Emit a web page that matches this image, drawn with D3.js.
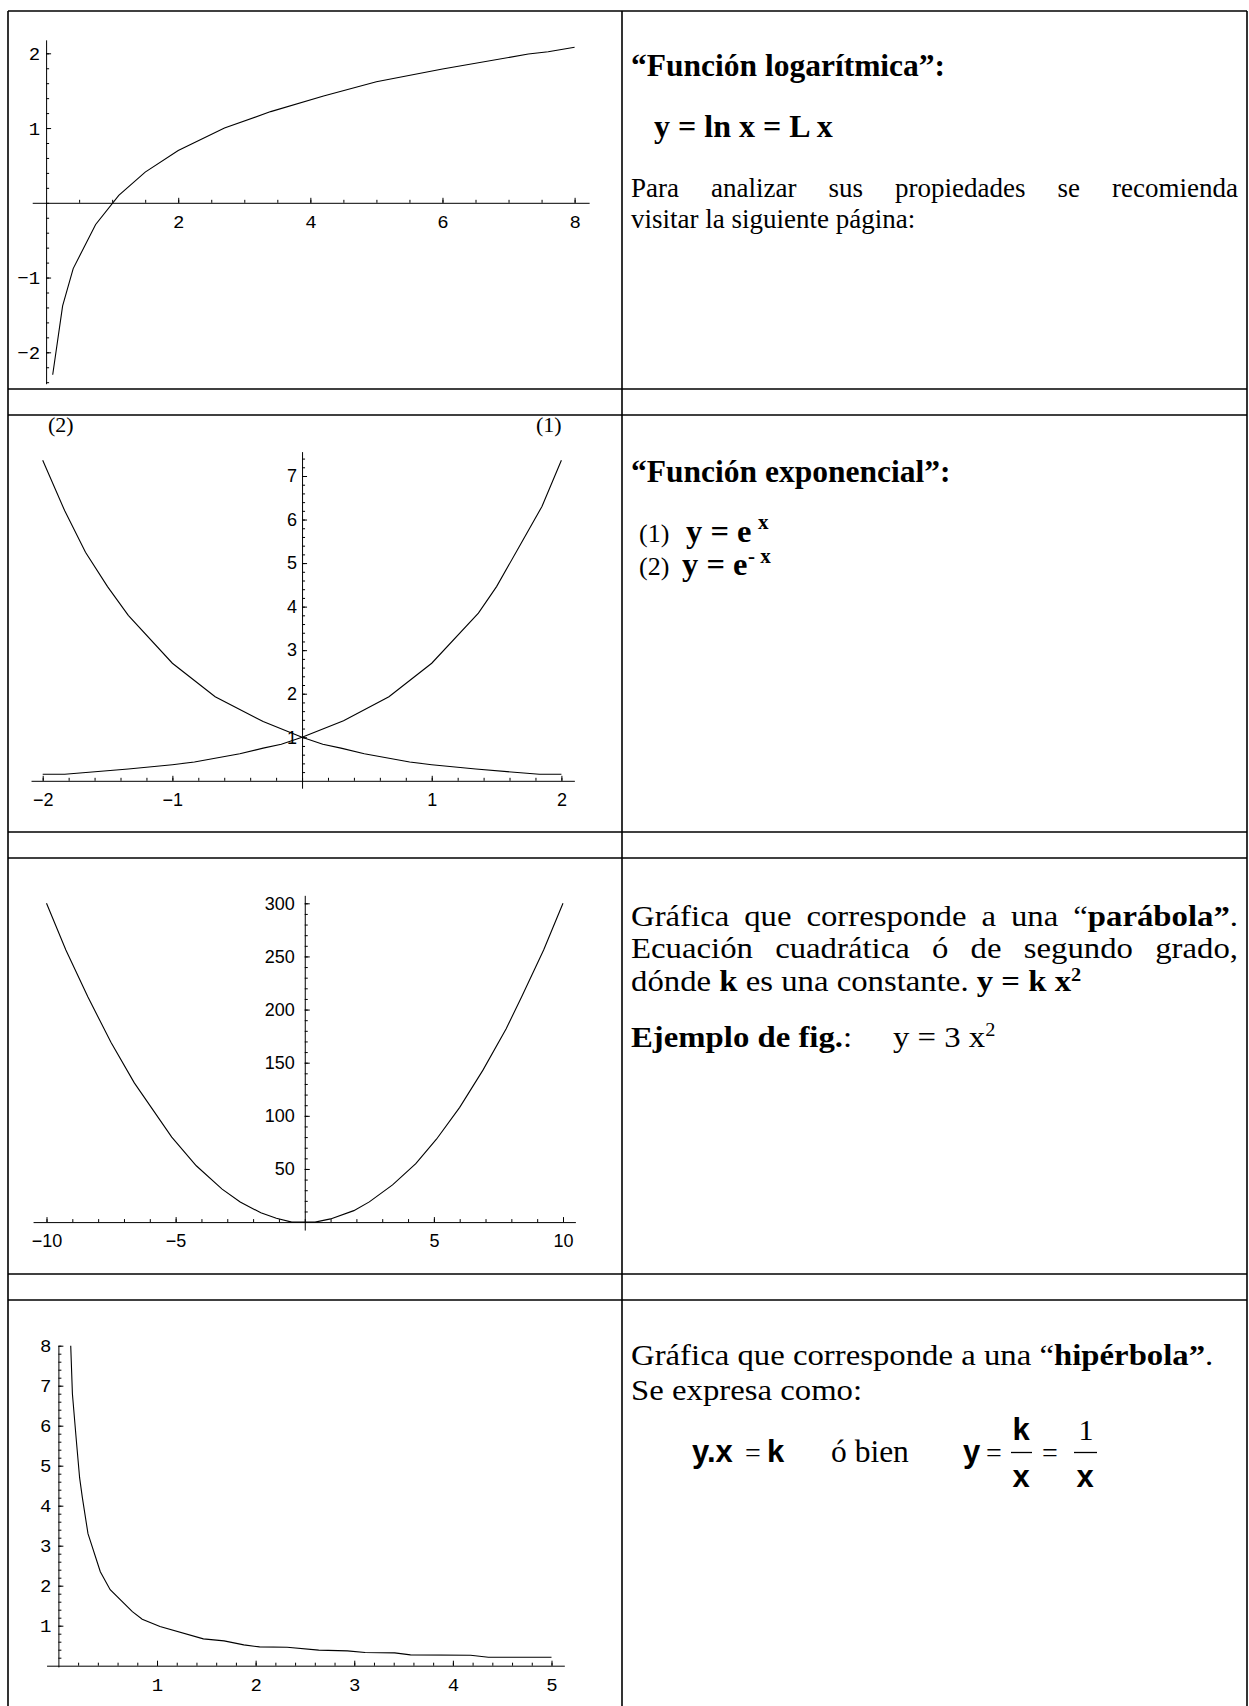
<!DOCTYPE html>
<html>
<head>
<meta charset="utf-8">
<style>
body { margin: 0; background: #fff; }
svg { display: block; }
.frame line { stroke: #000; stroke-width: 1.6; }
.axis .domain, .axis line { stroke: #000; stroke-width: 1; }
.curve { fill: none; stroke: #000; stroke-width: 1.1; }
text { white-space: pre; fill: #000; }
</style>
</head>
<body>
<svg id="page" width="1249" height="1706"></svg>
<script src="https://cdn.jsdelivr.net/npm/d3@7"></script>
<script>

// ---- values ----
// y = ln x
var logX = [0.1, 0.25, 0.41, 0.75, 1.1, 1.5, 2.0, 2.7, 3.4, 4.2, 5.0, 6.0, 7.3, 7.6, 8.0]
var logY = [-2.3, -1.38, -0.88, -0.29, 0.1, 0.41, 0.7, 1.0, 1.22, 1.43, 1.62, 1.79, 1.99, 2.02, 2.08]
var logXTicks = [2, 4, 6, 8]
var logYTicks = [-2, -1, 1, 2]

// (1) y = e^x  and  (2) y = e^-x
var expX1 = [-2.0, -1.83, -1.34, -1.0, -0.83, -0.48, -0.3, -0.16, 0.0, 0.32, 0.67, 1.0, 1.36, 1.5, 1.67, 1.85, 2.0]
var expY1 = [0.15, 0.15, 0.27, 0.37, 0.43, 0.62, 0.75, 0.84, 1.0, 1.38, 1.93, 2.7, 3.85, 4.46, 5.35, 6.3, 7.36]
var expX2 = [-2.0, -1.83, -1.67, -1.5, -1.34, -1.0, -0.67, -0.3, 0.0, 0.16, 0.3, 0.48, 0.83, 1.0, 1.34, 1.83, 2.0]
var expY2 = [7.36, 6.2, 5.25, 4.46, 3.8, 2.7, 1.93, 1.36, 1.0, 0.84, 0.75, 0.62, 0.43, 0.37, 0.27, 0.15, 0.15]
var expXTicks = [-2, -1, 1, 2]
var expYTicks = [1, 2, 3, 4, 5, 6, 7]

// y = 3 x^2
var parX = [-10, -9.25, -8.4, -7.5, -6.6, -5.15, -4.2, -3.2, -2.5, -1.7, -1.1, -0.5, 0.4, 1.0, 1.9, 2.5, 3.4, 4.3, 5.1, 6.0, 6.9, 7.8, 8.4, 9.25, 10]
var parY = [300, 256, 212, 169, 131, 80, 53, 31, 19, 8.7, 3.6, 0, 0, 3, 10.8, 19, 35, 55, 78, 108, 143, 182, 212, 256, 300]
var parXTicks = [-10, -5, 5, 10]
var parYTicks = [50, 100, 150, 200, 250, 300]

// y = 1/x
var hypX = [0.125, 0.142, 0.183, 0.215, 0.243, 0.30, 0.425, 0.525, 0.75, 0.85, 1.03, 1.47, 1.68, 1.88, 2.04, 2.32, 2.64, 2.93, 3.11, 3.41, 3.57, 4.18, 4.36, 5.0]
var hypY = [8.0, 6.8, 5.6, 4.7, 4.2, 3.3, 2.35, 1.9, 1.35, 1.16, 0.98, 0.67, 0.62, 0.52, 0.47, 0.46, 0.39, 0.37, 0.33, 0.32, 0.27, 0.26, 0.21, 0.21]
var hypXTicks = [1, 2, 3, 4, 5]
var hypYTicks = [1, 2, 3, 4, 5, 6, 7, 8]

var SERIF = "'Liberation Serif', 'Times New Roman', serif"
var SANS = "'Liberation Sans', Arial, sans-serif"
var MONO = "'Liberation Mono', 'Courier New', monospace"
var BODY = 31.5

var svg = d3.select("#page")

// ---- table frame ----
var frame = svg.append("g").attr("class", "frame")
var colX = [8, 622, 1247]
var rowY = [11, 389, 415, 832, 858, 1274, 1300]
frame.selectAll(".v").data(colX).enter().append("line")
  .attr("x1", function(d) {return d}).attr("x2", function(d) {return d})
  .attr("y1", rowY[0]).attr("y2", 1706)
frame.selectAll(".h").data(rowY).enter().append("line")
  .attr("x1", colX[0]).attr("x2", colX[2])
  .attr("y1", function(d) {return d}).attr("y2", function(d) {return d})

// ---- plots ----
function plot(c) {
  var g = svg.append("g")
  var xr = d3.scaleLinear().domain(c.xRef).range(c.xPx)
  var yr = d3.scaleLinear().domain(c.yRef).range(c.yPx)
  var x = d3.scaleLinear().domain(c.xExt).range(c.xExt.map(xr))
  var y = d3.scaleLinear().domain(c.yExt).range(c.yExt.map(yr))
  var x0 = x(0), y0 = y(0)

  var fmt = d3.format("d")

  // minor ticks first
  g.append("g").attr("class", "axis").attr("transform", "translate(0," + y0 + ")")
    .call(d3.axisBottom(x).tickValues(c.xMinor).tickSize(-3).tickFormat(""))
    .call(function(a) {a.select(".domain").remove()})
  g.append("g").attr("class", "axis").attr("transform", "translate(" + x0 + ",0)")
    .call(d3.axisLeft(y).tickValues(c.yMinor).tickSize(-3).tickFormat(""))
    .call(function(a) {a.select(".domain").remove()})

  var gx = g.append("g").attr("class", "axis").attr("transform", "translate(0," + y0 + ")")
    .call(d3.axisBottom(x).tickValues(c.xTicks).tickSize(-5).tickSizeOuter(0)
      .tickPadding(c.xPad).tickFormat(fmt))
  var gy = g.append("g").attr("class", "axis").attr("transform", "translate(" + x0 + ",0)")
    .call(d3.axisLeft(y).tickValues(c.yTicks).tickSize(-5).tickSizeOuter(0)
      .tickPadding(c.yPad).tickFormat(fmt))
  ;[gx, gy].forEach(function(a) {
    a.attr("font-family", c.font).attr("font-size", c.fontSize)
    a.selectAll("text").attr("fill", "#000")
  })

  var line = d3.line()
    .x(function(d) {return x(d[0])})
    .y(function(d) {return y(d[1])})
  c.series.forEach(function(s) {
    g.append("path").attr("class", "curve").datum(d3.zip(s[0], s[1])).attr("d", line)
  })
  return g
}

plot({
  xRef: [0, 8], xPx: [46.1, 574.6], xExt: [-0.21, 8.22],
  yRef: [-2, 2], yPx: [352.3, 53.3], yExt: [-2.42, 2.18],
  xTicks: logXTicks, yTicks: logYTicks,
  xMinor: d3.range(0.5, 8.01, 0.5), yMinor: d3.range(-2.4, 2.01, 0.2),
  xPad: 12, yPad: 6, font: MONO, fontSize: 19,
  series: [[logX, logY]]
})

plot({
  xRef: [-2, 2], xPx: [42.7, 561.4], xExt: [-2.09, 2.1],
  yRef: [0, 7], yPx: [780.8, 476], yExt: [-0.17, 7.56],
  xTicks: expXTicks, yTicks: expYTicks,
  xMinor: d3.range(-2, 2.01, 0.2), yMinor: d3.range(0.2, 7.41, 0.2),
  xPad: 12, yPad: 5, font: SANS, fontSize: 18,
  series: [[expX1, expY1], [expX2, expY2]]
})

plot({
  xRef: [-10, 10], xPx: [46.5, 563], xExt: [-10.52, 10.48],
  yRef: [0, 300], yPx: [1222.1, 903.3], yExt: [-7.5, 307.5],
  xTicks: parXTicks, yTicks: parYTicks,
  xMinor: d3.range(-10, 10.01, 1), yMinor: d3.range(10, 300.1, 10),
  xPad: 12, yPad: 10, font: SANS, fontSize: 18,
  series: [[parX, parY]]
})

plot({
  xRef: [0, 5], xPx: [58.4, 551.5], xExt: [-0.12, 5.13],
  yRef: [0, 8], yPx: [1665.7, 1345.7], yExt: [-0.03, 8.0],
  xTicks: hypXTicks, yTicks: hypYTicks,
  xMinor: d3.range(0.2, 5.01, 0.2), yMinor: d3.range(0.2, 8.01, 0.2),
  xPad: 12, yPad: 7, font: MONO, fontSize: 19,
  series: [[hypX, hypY]]
})

// ---- text ----
// draws a sequence of styled runs; sx stretches the glyphs horizontally
function runs(parent, x, y, list, size, sx) {
  sx = sx || 1
  var g = parent.append("g").attr("transform", "translate(" + x + ",0) scale(" + sx + ",1)")
  var cx = 0
  list.forEach(function(r) {
    var t = g.append("text")
      .attr("x", cx)
      .attr("y", y - (r.raise || 0))
      .attr("font-family", r.family || SERIF)
      .attr("font-size", r.size || size || BODY)
      .attr("font-weight", r.b ? "bold" : "normal")
      .text(r.t)
    cx += t.node().getComputedTextLength()
  })
  return x + cx * sx
}

function justify(parent, x, y, width, list, size, sx) {
  var words = [[]]
  list.forEach(function(r) {
    r.t.split(" ").forEach(function(piece, i) {
      if (i > 0) words.push([])
      if (piece) words[words.length - 1].push(Object.assign({}, r, {t: piece}))
    })
  })
  var parts = words.map(function(w) {
    var g = parent.append("g")
    return {g: g, w: runs(g, 0, y, w, size, sx)}
  })
  var gap = (width - d3.sum(parts, function(d) {return d.w})) / (parts.length - 1)
  var cx = x
  parts.forEach(function(d) {
    d.g.attr("transform", "translate(" + cx + ",0)")
    cx += d.w + gap
  })
}

function centered(parent, cx, y, r) {
  return parent.append("text").attr("x", cx).attr("y", y).attr("text-anchor", "middle")
    .attr("font-family", r.family || SERIF).attr("font-size", r.size || BODY)
    .attr("font-weight", r.b ? "bold" : "normal").text(r.t)
}

var txt = svg.append("g")
var L = 631, TW = 607

// row 1
runs(txt, L, 76, [{t: "“Función logarítmica”:", b: true}])
runs(txt, 654, 137, [{t: "y = ln x = L x", b: true}], 32)
justify(txt, L, 197, TW, [{t: "Para analizar sus propiedades se recomienda"}], 27)
runs(txt, L, 228, [{t: "visitar la siguiente página:"}], 27)

// row 2
runs(txt, 48, 432, [{t: "(2)", size: 22}])
runs(txt, 536, 432, [{t: "(1)", size: 22}])
runs(txt, L, 482, [{t: "“Función exponencial”:", b: true}])
runs(txt, 639, 542, [{t: "(1)", size: 26}])
runs(txt, 686, 542, [{t: "y = e", b: true, size: 32.5}])
runs(txt, 758, 542, [{t: "x", b: true, size: 21, raise: 13}])
runs(txt, 639, 575, [{t: "(2)", size: 26}])
runs(txt, 682, 575, [{t: "y = e", b: true, size: 32.5}])
runs(txt, 748, 575, [{t: "- x", b: true, size: 21, raise: 12}])

// row 3 (glyphs a little wider than plain Times in the picture)
var R3 = 29, SX = 1.13
justify(txt, L, 926, TW, [{t: "Gráfica que corresponde a una “"}, {t: "parábola”", b: true}, {t: "."}], R3, SX)
justify(txt, L, 958.5, TW, [{t: "Ecuación cuadrática ó de segundo grado,"}], R3, SX)
runs(txt, L, 991, [{t: "dónde "}, {t: "k", b: true}, {t: " es una constante. "},
  {t: "y = k x", b: true}, {t: "2", b: true, size: 18, raise: 10}], R3, SX)
runs(txt, L, 1047, [{t: "Ejemplo de fig.", b: true}, {t: ":"}], R3, SX)
runs(txt, 893, 1047, [{t: "y = 3 x"}, {t: "2", size: 18, raise: 11}], R3, SX)

// row 4
runs(txt, L, 1365, [{t: "Gráfica que corresponde a una “"}, {t: "hipérbola”", b: true}, {t: "."}], R3, SX)
runs(txt, L, 1400, [{t: "Se expresa como:"}], R3, SX)
var EQ = 31
runs(txt, 692, 1462, [{t: "y.x", b: true, family: SANS, size: EQ}])
runs(txt, 745, 1462, [{t: "=", size: 28}])
runs(txt, 767, 1462, [{t: "k", b: true, family: SANS, size: EQ}])
runs(txt, 831, 1462, [{t: "ó bien"}])
runs(txt, 963, 1462, [{t: "y", b: true, family: SANS, size: EQ}])
runs(txt, 986, 1462, [{t: "=", size: 28}])
centered(txt, 1021, 1440, {t: "k", b: true, family: SANS, size: EQ})
centered(txt, 1021, 1487, {t: "x", b: true, family: SANS, size: EQ})
runs(txt, 1042, 1462, [{t: "=", size: 28}])
centered(txt, 1086, 1440, {t: "1", size: 30})
centered(txt, 1085, 1487, {t: "x", b: true, family: SANS, size: EQ})
txt.selectAll(".bar").data([[1011, 1032], [1074, 1097]]).enter().append("line")
  .attr("x1", function(d) {return d[0]}).attr("x2", function(d) {return d[1]})
  .attr("y1", 1452.5).attr("y2", 1452.5)
  .attr("stroke", "#000").attr("stroke-width", 1.3)

</script>
</body>
</html>
